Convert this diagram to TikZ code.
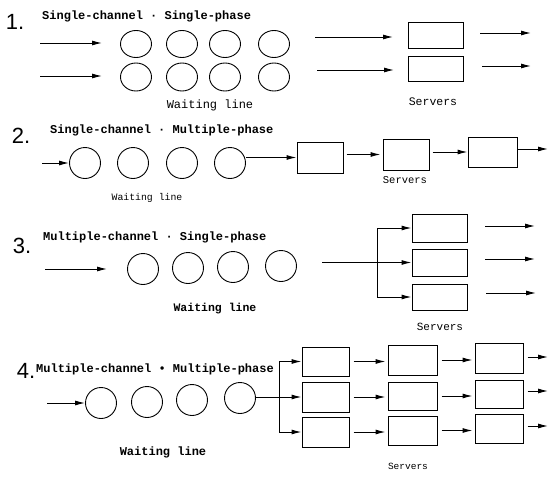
\documentclass[tikz,border=0pt]{standalone}
\usepackage{fontspec}
\setmonofont{Liberation Mono}
\newfontfamily\numfont{Liberation Sans}
\usetikzlibrary{arrows.meta,shapes.geometric}
\begin{document}
\begin{tikzpicture}[x=1pt,y=-1pt,
  wt/.style={draw,ellipse,line width=0.9pt,inner sep=0pt,minimum width=31pt,minimum height=31pt},
  srv/.style={draw,rectangle,line width=1pt,inner sep=0pt},
  arr/.style={line width=1pt,-{Latex[length=10pt,width=5pt]}},
  ln/.style={line width=1pt},
  num/.style={font=\numfont\fontsize{22}{22}\selectfont,inner sep=0pt},
  ttl/.style={font=\ttfamily\bfseries\fontsize{12}{12}\selectfont,inner sep=0pt,anchor=west},
  lbl/.style={font=\ttfamily\fontsize{12}{12}\selectfont,inner sep=0pt}
]
\useasboundingbox (0,0) rectangle (550,477);

%% ---------- 1 ----------
\node[num] (n1) at (15,22) {1.};
\node[ttl] (t1) at (42,16) {Single-channel · Single-phase};
\coordinate (i1a) at (40,43); \coordinate (e1a) at (102,43);
\coordinate (i1b) at (40,76); \coordinate (e1b) at (102,76);
\draw[arr] (i1a) -- (e1a);
\draw[arr] (i1b) -- (e1b);
\foreach \x [count=\i] in {136,182,225,274}{
  \node[wt,minimum height=27pt] (c1a\i) at (\x,44) {};
  \node[wt,minimum height=28pt] (c1b\i) at (\x,77) {};
}
\node[lbl] (w1) at (210,105) {Waiting line};
\node[srv,minimum width=55pt,minimum height=26pt] (s1a) at (435.5,35) {};
\node[srv,minimum width=55pt,minimum height=25pt] (s1b) at (435.5,68.5) {};
\coordinate (p1a) at (315,37); \coordinate (q1a) at (393,37);
\coordinate (p1b) at (317,70); \coordinate (q1b) at (394,70);
\draw[arr] (p1a) -- (q1a);
\draw[arr] (p1b) -- (q1b);
\coordinate (o1a) at (480,33); \coordinate (r1a) at (531,33);
\coordinate (o1b) at (482,66); \coordinate (r1b) at (531,66);
\draw[arr] (o1a) -- (r1a);
\draw[arr] (o1b) -- (r1b);
\node[lbl,font=\ttfamily\fontsize{11.5}{12}\selectfont] (sv1) at (433,102) {Servers};

%% ---------- 2 ----------
\node[num] (n2) at (21,136) {2.};
\node[ttl] (t2) at (50,130) {Single-channel · Multiple-phase};
\node[wt] (c21) at (85,163) {};
\node[wt] (c22) at (133,163) {};
\node[wt] (c23) at (182,163) {};
\node[wt] (c24) at (230,163) {};
\coordinate (i2) at (42,163);
\draw[arr] (i2) -- (c21.west);
\node[lbl,font=\ttfamily\fontsize{9.8}{10}\selectfont] (w2) at (147,198) {Waiting line};
\node[srv,minimum width=46pt,minimum height=31pt] (b21) at (320,157.5) {};
\node[srv,minimum width=46pt,minimum height=31pt] (b22) at (406,154.5) {};
\node[srv,minimum width=49pt,minimum height=30pt] (b23) at (492.5,152) {};
\draw[arr] (c24.east |- b21.west) -- (b21.west);
\draw[arr,shorten <=3pt,shorten >=2pt] (b21.east |- b22.west) -- (b22.west);
\draw[arr,shorten <=3pt] (b22.east |- b23.west) -- (b23.west);
\coordinate (o2) at (548,149);
\draw[arr] (b23.east |- o2) -- (o2);
\node[lbl,font=\ttfamily\fontsize{10.5}{11}\selectfont] (sv2) at (405,180) {Servers};

%% ---------- 3 ----------
\node[num] (n3) at (22,246) {3.};
\node[ttl] (t3) at (43,237) {Multiple-channel · Single-phase};
\coordinate (i3) at (45,269); \coordinate (e3) at (107,269);
\draw[arr] (i3) -- (e3);
\node[wt] (c31) at (143,269) {};
\node[wt] (c32) at (188,268) {};
\node[wt] (c33) at (233,267) {};
\node[wt] (c34) at (281,266) {};
\node[lbl,font=\ttfamily\bfseries\fontsize{11.5}{12}\selectfont] (w3) at (215,309) {Waiting line};
\node[srv,minimum width=55pt,minimum height=28pt] (b31) at (439.5,228) {};
\node[srv,minimum width=55pt,minimum height=27pt] (b32) at (439.5,262.5) {};
\node[srv,minimum width=55pt,minimum height=26pt] (b33) at (439.5,297) {};
\coordinate (i3s) at (322,262.5);
\coordinate (j3t) at (377,228); \coordinate (j3b) at (377,297);
\draw[arr] (i3s) -- (b32.west);
\draw[ln] (j3t) -- (j3b);
\draw[arr] (j3t) -- (b31.west);
\draw[arr] (j3b) -- (b33.west);
\coordinate (o3a) at (485,226); \coordinate (r3a) at (535,226);
\coordinate (o3b) at (485,259); \coordinate (r3b) at (535,259);
\coordinate (o3c) at (486,293); \coordinate (r3c) at (536,293);
\draw[arr] (o3a) -- (r3a);
\draw[arr] (o3b) -- (r3b);
\draw[arr] (o3c) -- (r3c);
\node[lbl,font=\ttfamily\fontsize{11}{11}\selectfont] (sv3) at (440,327) {Servers};

%% ---------- 4 ----------
\node[num] (n4) at (26,371) {4.};
\node[ttl] (t4) at (36,369) {Multiple-channel • Multiple-phase};
\node[wt] (c41) at (101,403) {};
\node[wt] (c42) at (147,402) {};
\node[wt] (c43) at (192,400) {};
\node[wt] (c44) at (240,398) {};
\coordinate (i4) at (47,403);
\draw[arr] (i4) -- (c41.west);
\node[lbl,font=\ttfamily\bfseries\fontsize{12}{12}\selectfont] (w4) at (163,452) {Waiting line};
\node[srv,minimum width=47pt,minimum height=29pt] (b41) at (325.5,361.5) {};
\node[srv,minimum width=47pt,minimum height=30pt] (b42) at (325.5,397) {};
\node[srv,minimum width=47pt,minimum height=30pt] (b43) at (325.5,432) {};
\node[srv,minimum width=49pt,minimum height=30pt] (b51) at (412.5,360) {};
\node[srv,minimum width=49pt,minimum height=28pt] (b52) at (412.5,396) {};
\node[srv,minimum width=49pt,minimum height=29pt] (b53) at (412.5,430.5) {};
\node[srv,minimum width=48pt,minimum height=30pt] (b61) at (499,358) {};
\node[srv,minimum width=48pt,minimum height=28pt] (b62) at (499,394) {};
\node[srv,minimum width=48pt,minimum height=29pt] (b63) at (499,428.5) {};
\coordinate (j4t) at (279,361.5); \coordinate (j4b) at (279,432);
\draw[arr] (c44.east |- b42.west) -- (b42.west);
\draw[ln] (j4t) -- (j4b);
\draw[arr] (j4t) -- (b41.west);
\draw[arr] (j4b) -- (b43.west);
\foreach \a/\b in {b41/b51,b42/b52,b43/b53,b51/b61,b52/b62,b53/b63}{
  \draw[arr,shorten <=4pt,shorten >=2pt] (\a.east) -- (\a.east -| \b.west);
}
\coordinate (o4a) at (548,357);
\coordinate (o4b) at (548,391);
\coordinate (o4c) at (548,426);
\draw[arr,shorten <=4pt] (b61.east |- o4a) -- (o4a);
\draw[arr,shorten <=4pt] (b62.east |- o4b) -- (o4b);
\draw[arr,shorten <=4pt] (b63.east |- o4c) -- (o4c);
\node[lbl,font=\ttfamily\fontsize{9.5}{10}\selectfont] (sv4) at (408,466) {Servers};
\end{tikzpicture}
\end{document}
